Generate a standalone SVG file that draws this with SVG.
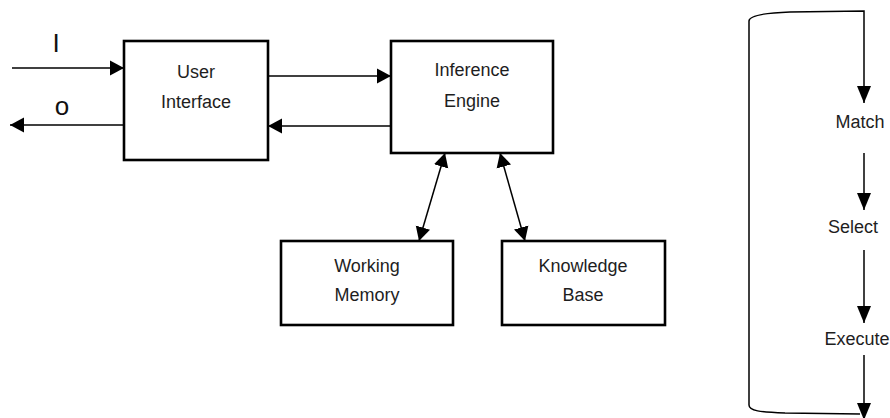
<svg xmlns="http://www.w3.org/2000/svg" width="890" height="418" viewBox="0 0 890 418">
  <style>
    .box { fill: #ffffff; stroke: #000000; stroke-width: 2.6; }
    .lbl { font-family: "Liberation Sans", Arial, sans-serif; font-size: 18px; fill: #1e1e1e; text-anchor: middle; }
    .io { font-family: "Liberation Sans", Arial, sans-serif; font-size: 26px; fill: #111111; text-anchor: middle; }
    .wire { fill: none; stroke: #000000; stroke-width: 1.5; }
  </style>
  <defs>
    <marker id="head" markerUnits="userSpaceOnUse" markerWidth="15" markerHeight="16" refX="14" refY="8" orient="auto-start-reverse">
      <path d="M0,0.5 L14,8 L0,15.5 Z" fill="#000000"/>
    </marker>
    <marker id="headTall" markerUnits="userSpaceOnUse" markerWidth="18" markerHeight="16" refX="17" refY="8" orient="auto-start-reverse">
      <path d="M0,1 L17,8 L0,15 Z" fill="#000000"/>
    </marker>
  </defs>

  <!-- system blocks -->
  <g id="user-interface">
    <rect class="box" x="124" y="41" width="144" height="119"/>
    <text class="lbl" x="196" y="78">User</text>
    <text class="lbl" x="196" y="108">Interface</text>
  </g>
  <g id="inference-engine">
    <rect class="box" x="391" y="41" width="162" height="112"/>
    <text class="lbl" x="472" y="76">Inference</text>
    <text class="lbl" x="472" y="107">Engine</text>
  </g>
  <g id="working-memory">
    <rect class="box" x="281" y="241" width="172" height="84"/>
    <text class="lbl" x="367" y="272">Working</text>
    <text class="lbl" x="367" y="301">Memory</text>
  </g>
  <g id="knowledge-base">
    <rect class="box" x="502" y="241" width="163" height="84"/>
    <text class="lbl" x="583" y="272">Knowledge</text>
    <text class="lbl" x="583" y="301">Base</text>
  </g>

  <!-- recognise-act cycle labels -->
  <g id="match">
    <text class="lbl" x="860" y="128">Match</text>
  </g>
  <g id="select">
    <text class="lbl" x="853" y="233">Select</text>
  </g>
  <g id="execute">
    <text class="lbl" x="857" y="345">Execute</text>
  </g>

  <!-- input / output labels -->
  <text class="io" x="56" y="52">I</text>
  <text class="io" x="62" y="115">o</text>

  <g id="connectors">
    <line class="wire" x1="12" y1="68" x2="124" y2="68" marker-end="url(#head)"/>
    <line class="wire" x1="124" y1="125" x2="10" y2="125" marker-end="url(#head)"/>
    <line class="wire" x1="268" y1="76" x2="391" y2="76" marker-end="url(#head)"/>
    <line class="wire" x1="391" y1="126" x2="268" y2="126" marker-end="url(#head)"/>
    <line class="wire" x1="445" y1="153" x2="419" y2="241" marker-start="url(#head)" marker-end="url(#head)"/>
    <line class="wire" x1="500" y1="153" x2="525" y2="241" marker-start="url(#head)" marker-end="url(#head)"/>

    <path class="wire" d="M860,414 L785,413 C760,412 749,411 749,405 L749,21 C749,16 762,13 790,12 L864,11 L864,103" marker-end="url(#headTall)"/>
    <line class="wire" x1="864" y1="153" x2="864" y2="210" marker-end="url(#headTall)"/>
    <line class="wire" x1="864" y1="250" x2="864" y2="323" marker-end="url(#headTall)"/>
    <line class="wire" x1="864" y1="355" x2="864" y2="420" marker-end="url(#headTall)"/>
  </g>
</svg>
